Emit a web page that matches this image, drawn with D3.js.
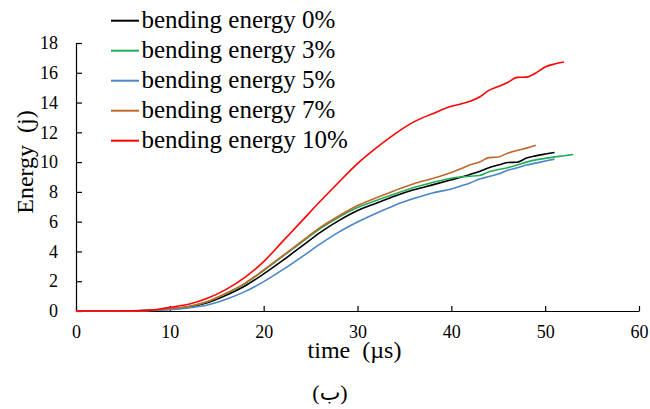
<!DOCTYPE html>
<html>
<head>
<meta charset="utf-8">
<script src="https://cdn.jsdelivr.net/npm/d3@7"></script>
<style>
  body { margin: 0; background: #fff; }
  text { font-family: "Liberation Serif", "Times New Roman", serif; fill: #000; }
  .axis path, .axis line { stroke: #000; stroke-width: 1.2; }
</style>
</head>
<body>
<div id="chart-area"></div>
<script>

// Data (time in µs, energy in j)

let seriesNames = ["bending energy 0%", "bending energy 3%", "bending energy 5%",
                   "bending energy 7%", "bending energy 10%"];
let seriesColors = ["#000000", "#21AE58", "#4A86C8", "#C4662C", "#FF0000"];

let time0  = [0, 2, 4, 6, 8, 10, 12, 14, 16, 18, 20, 22, 24, 26, 28, 30, 32, 34, 36, 38, 40, 42, 43, 44, 45, 46, 47, 48, 49, 50, 51];
let energy0 = [0, 0, 0, 0.01, 0.05, 0.14, 0.28, 0.56, 1.06, 1.68, 2.49, 3.38, 4.32, 5.27, 6.07, 6.75, 7.24, 7.73, 8.14, 8.47, 8.81, 9.17, 9.37, 9.62, 9.8, 9.97, 9.99, 10.27, 10.42, 10.54, 10.65];

let time3  = [0, 2, 4, 6, 8, 10, 12, 14, 16, 18, 20, 22, 24, 26, 28, 30, 32, 34, 36, 38, 40, 41, 42, 43, 44, 45, 46, 47, 48, 49, 50, 51, 52, 53];
let energy3 = [0, 0, 0, 0.01, 0.05, 0.15, 0.3, 0.62, 1.17, 1.83, 2.72, 3.65, 4.6, 5.52, 6.3, 6.95, 7.42, 7.87, 8.29, 8.63, 8.92, 9.0, 9.05, 9.1, 9.35, 9.5, 9.62, 9.8, 10.0, 10.15, 10.25, 10.35, 10.43, 10.51];

let time5  = [0, 2, 4, 6, 8, 10, 12, 14, 16, 18, 20, 22, 24, 26, 28, 30, 32, 34, 36, 38, 40, 41, 42, 43, 44, 45, 46, 47, 48, 49, 50, 51];
let energy5 = [0, 0, 0, 0.01, 0.03, 0.08, 0.2, 0.4, 0.79, 1.3, 1.97, 2.76, 3.61, 4.49, 5.3, 5.98, 6.57, 7.11, 7.55, 7.93, 8.2, 8.4, 8.6, 8.86, 9.03, 9.2, 9.45, 9.62, 9.8, 9.93, 10.07, 10.2];

let time7  = [0, 2, 4, 6, 8, 10, 12, 14, 16, 18, 20, 22, 24, 26, 28, 30, 32, 34, 36, 38, 40, 41, 42, 43, 44, 45, 46, 47, 48, 49];
let energy7 = [0, 0, 0, 0.01, 0.05, 0.16, 0.3, 0.63, 1.19, 1.86, 2.76, 3.7, 4.66, 5.6, 6.38, 7.08, 7.6, 8.1, 8.55, 8.9, 9.3, 9.55, 9.82, 10.0, 10.3, 10.34, 10.6, 10.78, 10.94, 11.14];

let time10  = [0, 2, 4, 6, 8, 10, 12, 14, 16, 18, 20, 22, 24, 26, 28, 30, 32, 34, 36, 38, 40, 41, 42, 43, 44, 45, 46, 47, 48, 49, 50, 51, 52];
let energy10 = [0, 0, 0, 0.01, 0.06, 0.25, 0.45, 0.85, 1.45, 2.26, 3.32, 4.66, 6.0, 7.35, 8.65, 9.9, 10.95, 11.9, 12.7, 13.25, 13.75, 13.9, 14.08, 14.37, 14.82, 15.08, 15.35, 15.69, 15.71, 15.98, 16.39, 16.59, 16.72];

let xTicks = [0, 10, 20, 30, 40, 50, 60];
let yTicks = [0, 2, 4, 6, 8, 10, 12, 14, 16, 18];

let allTimes = [time0, time3, time5, time7, time10];
let allEnergy = [energy0, energy3, energy5, energy7, energy10];

// SVG drawing area

let svg = d3.select("#chart-area").append("svg")
    .attr("width", 650)
    .attr("height", 409);

// Scales

let x = d3.scaleLinear()
    .domain([0, 60])
    .range([76, 639]);

let y = d3.scaleLinear()
    .domain([0, 18])
    .range([311, 43]);

// Axes

let xAxis = d3.axisBottom(x)
    .tickValues(xTicks)
    .tickSizeInner(-5)
    .tickSizeOuter(0)
    .tickPadding(14);

let yAxis = d3.axisLeft(y)
    .tickValues(yTicks)
    .tickSizeInner(-6)
    .tickSizeOuter(0)
    .tickPadding(18);

let xAxisG = svg.append("g")
    .attr("class", "x-axis axis")
    .attr("transform", "translate(0," + y(0) + ")")
    .call(xAxis);

let yAxisG = svg.append("g")
    .attr("class", "y-axis axis")
    .attr("transform", "translate(" + x(0) + ",0)")
    .call(yAxis);

svg.selectAll(".axis")
    .attr("font-family", null)
    .attr("font-size", null);

svg.selectAll(".axis text")
    .style("font-family", "'Liberation Serif', serif")
    .style("font-size", "18px")
    .attr("fill", "#000");

// Lines

let line = d3.line()
    .x(d => x(d[0]))
    .y(d => y(d[1]))
    .curve(d3.curveMonotoneX);

let seriesData = seriesNames.map((name, i) => ({
    name: name,
    color: seriesColors[i],
    points: allTimes[i].map((t, j) => [t, allEnergy[i][j]])
}));

svg.selectAll(".series")
    .data(seriesData)
    .enter()
    .append("path")
    .attr("class", "series")
    .attr("fill", "none")
    .attr("stroke", d => d.color)
    .attr("stroke-width", 1.6)
    .attr("d", d => line(d.points));

// Legend

let legend = svg.selectAll(".legend")
    .data(seriesData)
    .enter()
    .append("g")
    .attr("class", "legend")
    .attr("transform", (d, i) => "translate(111," + (20.7 + i * 30) + ")");

legend.append("line")
    .attr("x1", 0)
    .attr("x2", 28)
    .attr("stroke", d => d.color)
    .attr("stroke-width", 2);

legend.append("text")
    .attr("x", 30.5)
    .attr("y", 7)
    .style("font-size", "25px")
    .text(d => d.name);

// Axis titles

svg.append("text")
    .attr("x", 354.5)
    .attr("y", 358)
    .attr("text-anchor", "middle")
    .style("font-size", "24px")
    .style("white-space", "pre")
    .attr("xml:space", "preserve")
    .text("time  (µs)");

svg.append("text")
    .attr("transform", "translate(33,162) rotate(-90)")
    .attr("text-anchor", "middle")
    .style("font-size", "24px")
    .style("white-space", "pre")
    .attr("xml:space", "preserve")
    .text("Energy  (j)");

svg.append("text")
    .attr("x", 330)
    .attr("y", 400)
    .attr("text-anchor", "middle")
    .style("font-size", "22px")
    .style("font-family", "'Liberation Serif', 'DejaVu Sans', serif")
    .text("(ب)");

</script>
</body>
</html>
